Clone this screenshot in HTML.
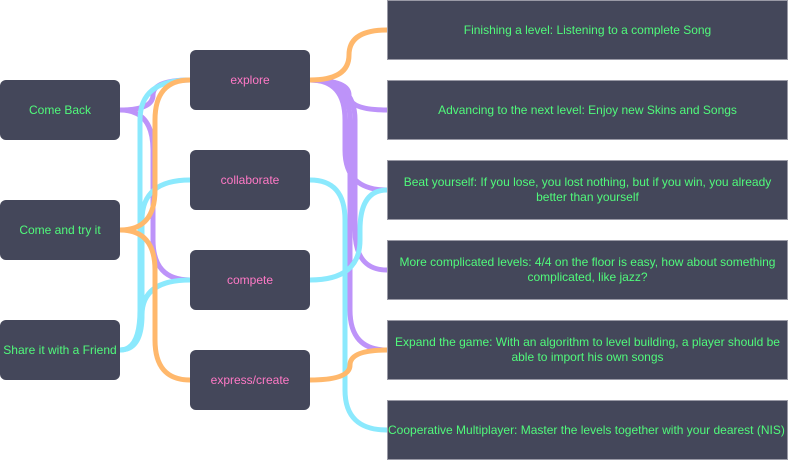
<!DOCTYPE html>
<html><head><style>
body{margin:0;width:788px;height:461px;background:#fff;overflow:hidden;position:relative;font-family:"Liberation Sans",sans-serif;font-size:12px}
.n{position:absolute;background:#44475a;display:flex;align-items:center;justify-content:center;text-align:center;box-sizing:border-box;line-height:15px}
.l{left:0;width:120px;height:60px;border-radius:6px;color:#50fa7b}
.m{left:190px;width:120px;height:60px;border-radius:6px;color:#ff79c6}
.r{left:387px;width:401px;height:60px;color:#50fa7b;border:1px solid #9a9aa6;padding:0 2px}
svg{position:absolute;left:0;top:0}
</style></head><body>
<svg width="788" height="461" fill="none" stroke-width="5" stroke-linecap="round">
<g stroke="#bd93f9">
<path d="M120 110 Q153 110 153 95 Q153 80 190 80"/>
<path d="M120 110 Q153 110 153 150 V240 Q153 280 190 280"/>
<path d="M310 80 Q349 80 349 95 Q349 110 387 110"/>
<path d="M310 80 Q345 80 345 120 V150 Q345 190 387 190"/>
<path d="M310 80 Q355 80 355 120 V230 Q355 270 387 270"/>
<path d="M310 80 Q350 80 350 120 V310 Q350 350 387 350"/>
</g>
<g stroke="#8be9fd">
<path d="M120 350 Q140 350 140 310 V120 Q140 80 190 80"/>
<path d="M120 350 Q142 350 142 310 V220 Q142 180 190 180"/>
<path d="M120 350 Q142 350 142 315 Q142 280 190 280"/>
<path d="M310 180 Q345 180 345 220 V390 Q345 430 387 430"/>
<path d="M310 280 Q360 280 360 240 V230 Q360 190 387 190"/>
</g>
<g stroke="#ffb86c">
<path d="M120 230 Q155 230 155 190 V120 Q155 80 190 80"/>
<path d="M120 230 Q155 230 155 270 V340 Q155 380 190 380"/>
<path d="M310 80 Q349 80 349 55 Q349 30 387 30"/>
<path d="M310 380 Q350 380 350 365 Q350 350 387 350"/>
</g>
</svg>
<div class="n l" style="top:80px">Come Back</div>
<div class="n l" style="top:200px">Come and try it</div>
<div class="n l" style="top:320px">Share it with a Friend</div>
<div class="n m" style="top:50px">explore</div>
<div class="n m" style="top:150px">collaborate</div>
<div class="n m" style="top:250px">compete</div>
<div class="n m" style="top:350px">express/create</div>
<div class="n r" style="top:0">Finishing a level: Listening to a complete Song</div>
<div class="n r" style="top:80px">Advancing to the next level: Enjoy new Skins and Songs</div>
<div class="n r" style="top:160px">Beat yourself: If you lose, you lost nothing, but if you win, you already better than yourself</div>
<div class="n r" style="top:240px">More complicated levels: 4/4 on the floor is easy, how about something complicated, like jazz?</div>
<div class="n r" style="top:320px;padding:0">Expand the game: With an algorithm to level building, a player should be able to import his own songs</div>
<div class="n r" style="top:400px;padding:0;white-space:nowrap;justify-content:flex-start">Cooperative Multiplayer: Master the levels together with your dearest (NIS)</div>
</body></html>
